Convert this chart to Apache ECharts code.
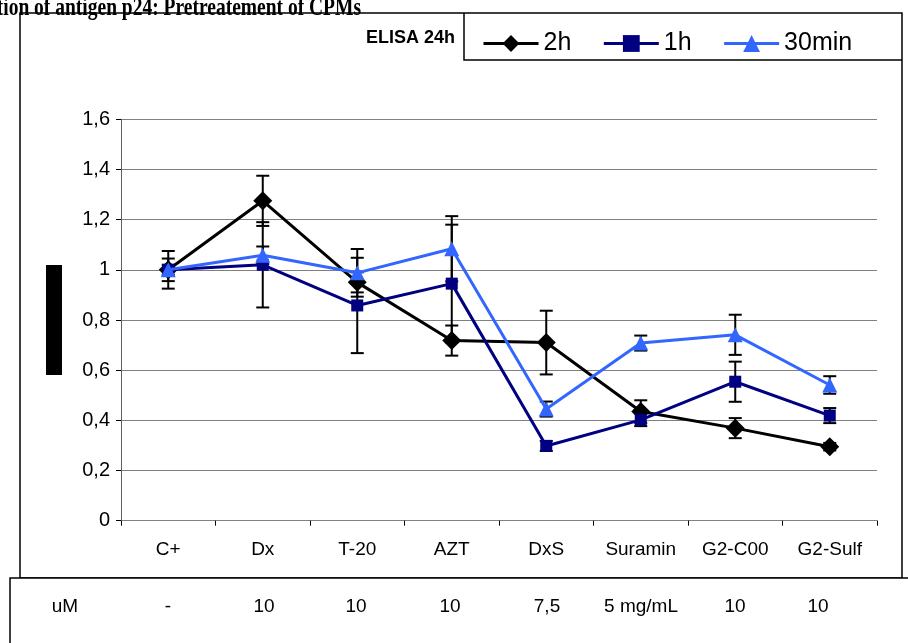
<!DOCTYPE html>
<html>
<head>
<meta charset="utf-8">
<script src="https://cdn.jsdelivr.net/npm/echarts@6/dist/echarts.min.js"></script>
<style>html,body{margin:0;padding:0;background:#fff;}#c{width:908px;height:643px;}</style>
</head>
<body>
<div id="c"></div>
<script>
const categories = ['C+', 'Dx', 'T-20', 'AZT', 'DxS', 'Suramin', 'G2-C00', 'G2-Sulf'];
const doses = ['-', '10', '10', '10', '7,5', '5 mg/mL', '10', '10'];
const yTicks = [0, 0.2, 0.4, 0.6, 0.8, 1.0, 1.2, 1.4, 1.6];
const h2 = [1.00, 1.275, 0.95, 0.718, 0.71, 0.435, 0.369, 0.295];
const h2Err = [0.075, 0.10, 0.04, 0.06, 0.127, 0.045, 0.04, 0.015];
const h1 = [1.00, 1.02, 0.858, 0.945, 0.298, 0.402, 0.554, 0.419];
const h1Err = [0.045, 0.17, 0.19, 0.235, 0.02, 0.025, 0.08, 0.03];
const m30 = [1.00, 1.058, 0.988, 1.084, 0.445, 0.708, 0.741, 0.541];
const m30Err = [0.02, 0.035, 0.095, 0.13, 0.03, 0.03, 0.08, 0.035];

const chart = echarts.init(document.getElementById('c'));
const fmt = v => (Math.round(v * 10) / 10).toString().replace('.', ',');

function errSeries(vals, errs) {
  return {
    type: 'custom',
    z: 1,
    silent: true,
    data: vals.map((v, i) => [i, v - errs[i], v + errs[i]]),
    renderItem: function (params, api) {
      const lo = api.coord([api.value(0), api.value(1)]);
      const hi = api.coord([api.value(0), api.value(2)]);
      const w = 6.5;
      const st = { stroke: '#000', lineWidth: 2 };
      return {
        type: 'group',
        children: [
          { type: 'line', shape: { x1: lo[0], y1: lo[1], x2: hi[0], y2: hi[1] }, style: st },
          { type: 'line', shape: { x1: lo[0] - w, y1: lo[1], x2: lo[0] + w, y2: lo[1] }, style: st },
          { type: 'line', shape: { x1: hi[0] - w, y1: hi[1], x2: hi[0] + w, y2: hi[1] }, style: st }
        ]
      };
    }
  };
}

const sans = '"Liberation Sans", Arial, sans-serif';
const labelFont = { fontFamily: sans, fontSize: 19, color: '#000' };
const tableFont = '19px ' + sans;

const doseX = [168, 264, 356, 450, 547, 641, 735, 818];
const tableTexts = [{ type: 'text', x: 65, y: 607, style: { text: 'uM', align: 'center', verticalAlign: 'middle', font: tableFont, fill: '#000' } }]
  .concat(doses.map((d, i) => ({ type: 'text', x: doseX[i], y: 607, style: { text: d, align: 'center', verticalAlign: 'middle', font: tableFont, fill: '#000' } })));

chart.setOption({
  animation: false,
  backgroundColor: '#fff',
  grid: { left: 121, right: 31, top: 119.3, bottom: 122.3 },
  legend: {
    left: 477, top: 26,
    itemWidth: 55, itemHeight: 21, itemGap: 31,
    lineStyle: { width: 3 },
    textStyle: { fontFamily: sans, fontSize: 25, color: '#000' },
    data: ['2h', '1h', '30min']
  },
  xAxis: {
    type: 'category',
    data: categories,
    boundaryGap: true,
    axisLine: { lineStyle: { color: '#808080', width: 1 } },
    axisTick: { show: true, length: 5, lineStyle: { color: '#000' } },
    axisLabel: Object.assign({ margin: 20 }, labelFont),
    splitLine: { show: false }
  },
  yAxis: {
    type: 'value',
    min: yTicks[0], max: yTicks[yTicks.length - 1], interval: 0.2,
    axisLine: { show: true, lineStyle: { color: '#606060', width: 1 } },
    axisTick: { show: true, length: 5, lineStyle: { color: '#000' } },
    axisLabel: Object.assign({ margin: 11, formatter: fmt }, labelFont, { fontSize: 20 }),
    splitLine: { show: true, lineStyle: { color: '#808080', width: 1 } }
  },
  series: [
    errSeries(h2, h2Err),
    errSeries(h1, h1Err),
    errSeries(m30, m30Err),
    { name: '2h', type: 'line', z: 2, data: h2, symbol: 'diamond', symbolSize: 19,
      lineStyle: { color: '#000', width: 3 }, itemStyle: { color: '#000' } },
    { name: '1h', type: 'line', z: 3, data: h1, symbol: 'rect', symbolSize: 12,
      lineStyle: { color: '#000080', width: 3 }, itemStyle: { color: '#000080' } },
    { name: '30min', type: 'line', z: 4, data: m30, symbol: 'triangle', symbolSize: 15,
      lineStyle: { color: '#3366ff', width: 3 }, itemStyle: { color: '#3366ff' } }
  ],
  graphic: [
    { type: 'rect', shape: { x: 20, y: 13, width: 882, height: 565 }, style: { fill: 'none', stroke: '#000', lineWidth: 1.5 }, z: -1 },
    { type: 'polyline', shape: { points: [[464, 13], [464, 60], [902, 60]] }, style: { fill: 'none', stroke: '#000', lineWidth: 1.5 } },
    { type: 'rect', shape: { x: 10, y: 578, width: 910, height: 80 }, style: { fill: '#fff', stroke: '#000', lineWidth: 1.5 } },
    { type: 'text', x: 361, y: 21, scaleY: 1.3, style: { text: 'tion of antigen p24: Pretreatement of CPMs', align: 'right', verticalAlign: 'bottom', font: 'bold 19.5px "Liberation Serif", "Times New Roman", serif', fill: '#000' } },
    { type: 'text', x: 455, y: 38, style: { text: 'ELISA 24h', align: 'right', verticalAlign: 'middle', font: 'bold 18px ' + sans, fill: '#000' } },
    { type: 'rect', shape: { x: 46, y: 265, width: 16, height: 110 }, style: { fill: '#000' } }
  ].concat(tableTexts)
});
</script>
</body>
</html>
